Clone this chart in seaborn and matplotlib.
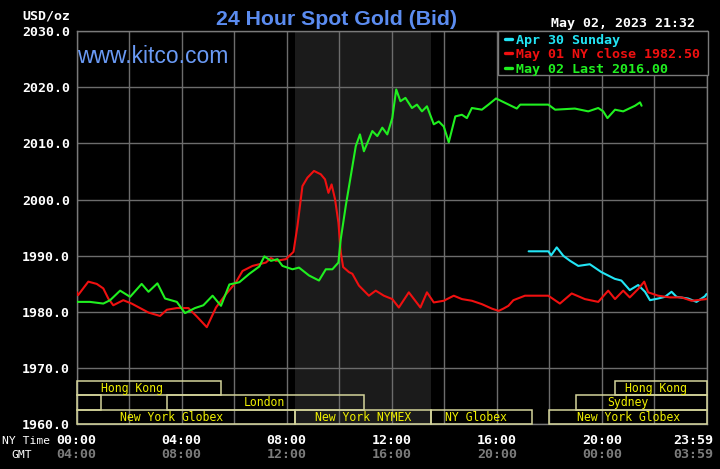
import matplotlib
matplotlib.use("Agg")
import matplotlib.pyplot as plt
from matplotlib.patches import Rectangle
from matplotlib.lines import Line2D
import seaborn as sns
import pandas as pd

# ---------------- data ----------------
apr30_hours = [17.21, 17.96, 18.07, 18.28, 18.53, 18.79, 19.10, 19.54, 19.98, 20.49, 20.74,
               21.06, 21.38, 21.64, 21.83, 22.14, 22.40, 22.65, 22.84, 23.28, 23.60, 23.92, 23.98]
apr30_prices = [1990.8, 1990.8, 1990.1, 1991.5, 1990.0, 1989.1, 1988.2, 1988.5, 1987.1, 1985.9, 1985.6,
                1983.9, 1984.8, 1983.6, 1982.1, 1982.4, 1982.7, 1983.6, 1982.7, 1982.4, 1981.8, 1982.8, 1983.2]

may01_hours = [0.00, 0.06, 0.45, 0.77, 1.02, 1.21, 1.40, 1.78, 2.10, 2.42, 2.74, 3.18, 3.44, 3.82,
               4.26, 4.58, 4.96, 5.31, 5.66, 6.07, 6.32, 6.70, 7.21, 7.40, 7.59, 7.97, 8.26, 8.41,
               8.60, 8.79, 9.04, 9.30, 9.46, 9.59, 9.71, 9.84, 9.97, 10.06, 10.15, 10.37, 10.50,
               10.75, 11.13, 11.39, 11.70, 12.02, 12.27, 12.65, 13.09, 13.34, 13.60, 13.98, 14.36,
               14.67, 15.05, 15.43, 15.81, 16.07, 16.25, 16.44, 16.63, 17.07, 17.96, 18.40, 18.85,
               19.35, 19.86, 20.24, 20.50, 20.81, 21.06, 21.38, 21.61, 21.76, 22.14, 22.59, 23.03,
               23.41, 23.98]
may01_prices = [1983.6, 1983.0, 1985.4, 1985.0, 1984.2, 1982.4, 1981.2, 1982.1, 1981.5, 1980.7, 1979.9,
                1979.3, 1980.4, 1980.7, 1980.7, 1979.2, 1977.3, 1980.8, 1983.0, 1985.3, 1987.3, 1988.2,
                1988.8, 1989.6, 1989.1, 1989.4, 1990.7, 1995.3, 2002.4, 2003.9, 2005.1, 2004.5, 2003.6,
                2001.2, 2002.7, 2000.1, 1995.9, 1990.6, 1988.0, 1987.1, 1986.8, 1984.7, 1982.9, 1983.8,
                1982.9, 1982.3, 1980.8, 1983.5, 1980.8, 1983.5, 1981.7, 1982.0, 1982.9, 1982.3, 1982.0,
                1981.4, 1980.6, 1980.2, 1980.6, 1981.1, 1982.1, 1982.9, 1982.9, 1981.5, 1983.3, 1982.3,
                1981.8, 1983.8, 1982.3, 1983.8, 1982.6, 1984.1, 1985.4, 1983.5, 1982.9, 1982.6, 1982.6,
                1982.0, 1982.3]

may02_hours = [0.00, 0.51, 1.02, 1.28, 1.66, 2.04, 2.48, 2.74, 3.08, 3.37, 3.82, 4.13, 4.51, 4.83,
               5.18, 5.50, 5.82, 6.20, 6.58, 6.96, 7.15, 7.40, 7.65, 7.84, 8.22, 8.47, 8.85, 9.23,
               9.49, 9.74, 9.97, 10.06, 10.25, 10.44, 10.63, 10.79, 10.94, 11.26, 11.45, 11.64,
               11.83, 12.02, 12.17, 12.33, 12.52, 12.77, 12.96, 13.15, 13.34, 13.60, 13.79, 13.98,
               14.17, 14.42, 14.67, 14.86, 15.05, 15.43, 15.68, 15.97, 16.32, 16.76, 16.89, 17.96,
               18.22, 18.97, 19.48, 19.86, 20.05, 20.21, 20.50, 20.81, 21.26, 21.45, 21.51]
may02_prices = [1981.8, 1981.8, 1981.5, 1982.1, 1983.8, 1982.7, 1985.0, 1983.6, 1985.1, 1982.4, 1981.8,
                1979.8, 1980.7, 1981.2, 1982.9, 1981.1, 1984.9, 1985.3, 1986.8, 1988.1, 1989.9, 1989.1,
                1989.4, 1988.2, 1987.6, 1987.9, 1986.5, 1985.6, 1987.6, 1987.6, 1988.8, 1993.0, 1998.9,
                2004.2, 2009.5, 2011.6, 2008.6, 2012.2, 2011.3, 2012.8, 2011.6, 2014.5, 2019.6, 2017.5,
                2018.1, 2016.3, 2016.9, 2015.7, 2016.6, 2013.4, 2013.9, 2013.0, 2010.2, 2014.8, 2015.1,
                2014.5, 2016.3, 2016.0, 2016.9, 2018.0, 2017.2, 2016.2, 2016.9, 2016.9, 2016.0, 2016.2,
                2015.7, 2016.3, 2015.7, 2014.5, 2016.0, 2015.7, 2016.7, 2017.3, 2016.7]

series_names = ["Apr 30 Sunday", "May 01 NY close 1982.50", "May 02 Last 2016.00"]
series_colors = ["#22e5f5", "#f01010", "#20f020"]

y_ticks = [1960, 1970, 1980, 1990, 2000, 2010, 2020, 2030]
ny_labels = ["00:00", "04:00", "08:00", "12:00", "16:00", "20:00", "23:59"]
gmt_labels = ["04:00", "08:00", "12:00", "16:00", "20:00", "00:00", "03:59"]
label_hours = [0, 4, 8, 12, 16, 20, 23.47]

# sessions: (row, start, end, label, label_hour)
sessions = [
    (0, 0.0, 5.5, "Hong Kong", 2.1),
    (0, 20.5, 24.0, "Hong Kong", 22.05),
    (1, 0.0, 0.95, "", 0),
    (1, 3.45, 10.95, "London", 7.15),
    (1, 19.0, 24.0, "Sydney", 21.0),
    (2, 0.0, 8.33, "New York Globex", 3.62),
    (2, 8.33, 13.5, "New York NYMEX", 10.9),
    (2, 13.5, 17.33, "NY Globex", 15.2),
    (2, 18.0, 24.0, "New York Globex", 21.0),
]
nymex_span = (8.33, 13.5)

# ---------------- build frame ----------------
frames = []
for name, hrs, prs in zip(series_names, [apr30_hours, may01_hours, may02_hours],
                          [apr30_prices, may01_prices, may02_prices]):
    frames.append(pd.DataFrame({"hour": hrs, "price": prs, "series": name}))
df = pd.concat(frames, ignore_index=True)

sns.set_theme(style="dark")
plt.rcParams["font.family"] = ["DejaVu Sans"]

W, H = 720, 469
fig = plt.figure(figsize=(W / 100, H / 100), dpi=100, facecolor="black")
x0, x1, yt, yb = 76.5, 707.0, 31.0, 424.4
ax = fig.add_axes([x0 / W, 1 - yb / H, (x1 - x0) / W, (yb - yt) / H])
ax.set_facecolor("black")

ax.axvspan(*nymex_span, color="#1b1b1b", zorder=0, lw=0)

sns.lineplot(data=df, x="hour", y="price", hue="series", hue_order=series_names,
             palette=dict(zip(series_names, series_colors)), estimator=None, sort=False,
             linewidth=1.5, ax=ax, zorder=3, legend=False)

ax.set_xlim(0, 24)
ax.set_ylim(1960, 2030)
ax.set_xticks(range(0, 25, 2))
ax.set_yticks(y_ticks)
ax.grid(True, color="#6c6c6c", linewidth=1.0, zorder=1)
ax.set_axisbelow(True)
ax.set_xticklabels([])
ax.set_yticklabels([f"{v:.1f}" for v in y_ticks], family="DejaVu Sans Mono",
                   fontweight="bold", fontsize=9.5, color="white")
ax.tick_params(axis="both", length=0)
ax.tick_params(axis="y", pad=4.6)
ax.set_xlabel("")
ax.set_ylabel("")
for s in ax.spines.values():
    s.set_color("#7a7a7a")
    s.set_linewidth(1.0)
    s.set_visible(True)

# session bars
row_h = 2.58
for row, a, b, lab, lh in sessions:
    ylo = 1960 + (2 - row) * row_h
    ax.add_patch(Rectangle((a, ylo), b - a, row_h, fill=False, edgecolor="#d4d49a",
                           linewidth=1.1, zorder=4, clip_on=False))
    if lab:
        ax.text(lh, ylo + row_h / 2, lab, ha="center", va="center", color="#f0f000",
                family="DejaVu Sans Mono", fontsize=8.3, zorder=5)

# legend box (drawn in pixel positions of the figure)
lx0, lx1, ly0, ly1 = 497.5, 708.0, 31.0, 75.0
fig.add_artist(Rectangle((lx0 / W, 1 - ly1 / H), (lx1 - lx0) / W, (ly1 - ly0) / H,
                         transform=fig.transFigure, facecolor="black", edgecolor="#7a7a7a",
                         linewidth=1.0, zorder=6))
for i, (name, col) in enumerate(zip(series_names, series_colors)):
    yc = 39.0 + i * 14.4
    fig.add_artist(Line2D([505 / W, 511.5 / W], [1 - yc / H, 1 - yc / H], color=col,
                          linewidth=2.4, transform=fig.transFigure, zorder=7))
    fig.text(516 / W, 1 - yc / H, name, ha="left", va="center_baseline", color=col,
             family="DejaVu Sans Mono", fontweight="bold", fontsize=9.6, zorder=7)

# x tick labels (two rows)
xt = ax.get_xaxis_transform()
for hh, a, b in zip(label_hours, ny_labels, gmt_labels):
    ax.text(hh, -(443.5 - yb) / (yb - yt), a, transform=xt, ha="center", va="baseline",
            color="white", family="DejaVu Sans Mono", fontweight="bold", fontsize=9.6,
            clip_on=False)
    ax.text(hh, -(458.0 - yb) / (yb - yt), b, transform=xt, ha="center", va="baseline",
            color="#7c7c7c", family="DejaVu Sans Mono", fontweight="bold", fontsize=9.6,
            clip_on=False)

fig.text(2.5 / W, 1 - 443.5 / H, "NY Time", ha="left", va="baseline", color="white",
         family="DejaVu Sans Mono", fontsize=8.2)
fig.text(22 / W, 1 - 458.0 / H, "GMT", ha="center", va="baseline", color="white",
         family="DejaVu Sans Mono", fontsize=8.2)

# header texts
fig.text(336.5 / W, 1 - 25 / H, "24 Hour Spot Gold (Bid)", ha="center", va="baseline",
         color="#5b8cf0", family=["Liberation Sans", "DejaVu Sans"], fontweight="bold",
         fontsize=15.3)
fig.text(77 / W, 1 - 63.3 / H, "www.kitco.com", ha="left", va="baseline",
         color="#6a9af5", family=["Liberation Sans", "DejaVu Sans"], fontsize=16.5)
fig.text(695 / W, 1 - 27 / H, "May 02, 2023 21:32", ha="right", va="baseline",
         color="white", family="DejaVu Sans Mono", fontweight="bold", fontsize=9.5)
fig.text(70 / W, 1 - 19.5 / H, "USD/oz", ha="right", va="baseline",
         color="white", family="DejaVu Sans Mono", fontweight="bold", fontsize=9.5)

fig.savefig("out.png", dpi=100, facecolor="black")
